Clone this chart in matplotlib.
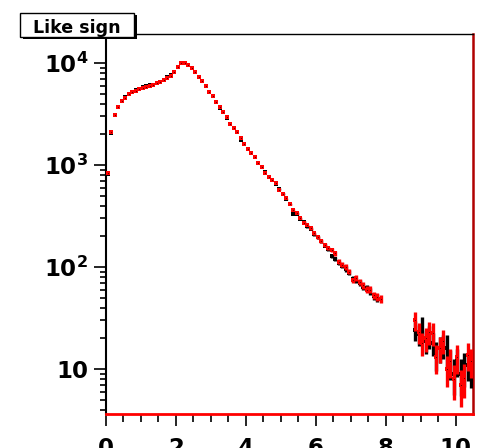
import numpy as np
import matplotlib
matplotlib.use("Agg")
import matplotlib.pyplot as plt
from matplotlib.patches import Rectangle

plt.rcParams['mathtext.fontset'] = 'dejavusans'

# ---- data ----
bin_centers = [round(0.05 + 0.1 * i, 2) for i in range(105)]

red_values = [
    830, 2120, 3100, 3720, 4270, 4580, 4960, 5140, 5350, 5520,      # 0.05-0.95
    5730, 5850, 6000, 6150, 6300, 6450, 6800, 7200, 7500, 8100,     # 1.05-1.95
    9200, 9930, 9930, 9500, 8900, 8150, 7350, 6670, 6000, 5150,     # 2.05-2.95
    4780, 4170, 3720, 3320, 2960, 2500, 2290, 2120, 1830, 1610,     # 3.05-3.95
    1450, 1300, 1190, 1050, 950, 840, 770, 710, 660, 575,           # 4.05-4.95
    525, 470, 418, 360, 336, 300, 272, 258, 240, 213,               # 5.05-5.95
    196, 181, 164, 152, 147, 136, 113, 105, 100, 90,                # 6.05-6.95
    74, 78, 71, 66, 60, 60, 53, 51, 49, np.nan,                     # 7.05-7.95
    np.nan, np.nan, np.nan, np.nan, np.nan, np.nan, np.nan, np.nan, 30, 23,  # 8.05-8.95
    18, 20, 23, 22.5, 13, 16, 19, 10, 12, 8,                        # 9.05-9.95
    13, 7, 8.2, 13.7, 12,                                           # 10.05-10.45
]

black_values = [
    820, 2050, 3100, 3700, 4270, 4600, 4960, 5200, 5450, 5600,
    5800, 5900, 6050, 6150, 6300, 6450, 6800, 7250, 7600, 8100,
    9200, 9930, 9930, 9500, 8900, 8150, 7350, 6670, 6000, 5200,
    4800, 4100, 3650, 3300, 2900, 2500, 2280, 2100, 1760, 1610,
    1450, 1300, 1190, 1050, 950, 850, 760, 720, 650, 580,
    520, 460, 410, 330, 330, 295, 275, 250, 235, 210,
    196, 178, 162, 150, 128, 120, 110, 103, 96, 88,
    76, 74, 70, 64, 62, 58, 52, 50, np.nan, np.nan,
    np.nan, np.nan, np.nan, np.nan, np.nan, np.nan, np.nan, np.nan, 24, 22,
    26, 19, 21, 18, 14, 16, 17, 16, 11.5, 9,
    12, 9, 10.5, 11, 9.5,
]

# relative statistical errors per bin (shared by both series)
rel_errors = (
    [0.0] * 49 +
    [0.015, 0.015, 0.02, 0.02, 0.02, 0.025, 0.025, 0.03, 0.03, 0.03, 0.035,
     0.035, 0.04, 0.04, 0.04, 0.045, 0.05, 0.05, 0.055, 0.06, 0.06,
     0.065, 0.065, 0.07, 0.07, 0.075, 0.08, 0.08, 0.085, 0.09, 0.09,
     0.09, 0.09, 0.09, 0.09, 0.09, 0.09, 0.09, 0.09, 0.22, 0.24,
     0.25, 0.26, 0.25, 0.25, 0.32, 0.28, 0.27, 0.34, 0.32, 0.38,
     0.31, 0.40, 0.37, 0.30, 0.32]
)

x_tick_values = [0, 2, 4, 6, 8, 10]
x_tick_labels = ["0", "2", "4", "6", "8", "10"]
y_tick_values = [10, 100, 1000, 10000]
y_tick_labels = ["10", r"$\mathbf{10^{2}}$", r"$\mathbf{10^{3}}$", r"$\mathbf{10^{4}}$"]
title_text = "Like sign"

# ---- figure ----
W, H = 478, 448
fig = plt.figure(figsize=(W / 100, H / 100), dpi=100)
ax = fig.add_axes([106 / W, 1 - 414 / H, (472.5 - 106) / W, (414 - 33.5) / H])

x = np.array(bin_centers)
rv = np.array(red_values, dtype=float)
bv = np.array(black_values, dtype=float)
re = np.array(rel_errors)

ax.errorbar(x, bv, yerr=bv * re, fmt='s', color='black', ms=2.4, mew=0,
            elinewidth=2.4, capsize=0, zorder=3)
ax.errorbar(x, rv, yerr=rv * re, fmt='s', color='red', ms=2.4, mew=0,
            elinewidth=2.4, capsize=0, zorder=4)
# small center dots of red markers (ROOT style)
ax.plot(x, rv, ls='none', marker='s', ms=0.6, color='#550000', mew=0, zorder=5)

ax.set_yscale('log')
ax.set_xlim(0, 10.48)
ax.set_ylim(3.62, 19460)

ax.set_xticks(x_tick_values, x_tick_labels, fontsize=16.5, fontweight='bold')
ax.set_xticks(np.arange(0, 10.49, 0.5), minor=True)
ax.set_yticks(y_tick_values, y_tick_labels, fontsize=16.5, fontweight='bold')
ax.yaxis.set_minor_formatter(matplotlib.ticker.NullFormatter())

ax.tick_params(axis='x', which='major', direction='out', length=8.6, width=1.2, pad=8.0,
               top=False)
ax.tick_params(axis='x', which='minor', direction='out', length=5.5, width=1.2, top=False)
ax.tick_params(axis='y', which='major', direction='out', length=8.6, width=1.2, pad=4.3,
               right=False)
ax.tick_params(axis='y', which='minor', direction='out', length=4.3, width=1.2, right=False)

ax.spines['left'].set_linewidth(1.5)
ax.spines['top'].set_linewidth(1.0)
ax.spines['right'].set_linewidth(1.8)
ax.spines['right'].set_color('#b00000')
ax.spines['bottom'].set_linewidth(2.0)
ax.spines['bottom'].set_color('red')

# ---- title box (ROOT pave with shadow) ----
bx0, bx1, by0, by1 = 20, 134, 13, 37
fig.patches.append(Rectangle(((bx0 + 2.5) / W, 1 - (by1 + 2.5) / H),
                             (bx1 - bx0) / W, (by1 - by0) / H,
                             transform=fig.transFigure, facecolor='black',
                             edgecolor='none', zorder=10))
fig.patches.append(Rectangle((bx0 / W, 1 - by1 / H), (bx1 - bx0) / W, (by1 - by0) / H,
                             transform=fig.transFigure, facecolor='white',
                             edgecolor='black', lw=1.0, zorder=11))
fig.text((bx0 + bx1) / 2 / W, 1 - 33 / H, title_text, ha='center', va='baseline',
         fontsize=12.6, fontweight='bold', zorder=12)

fig.savefig('out.png', dpi=100)
